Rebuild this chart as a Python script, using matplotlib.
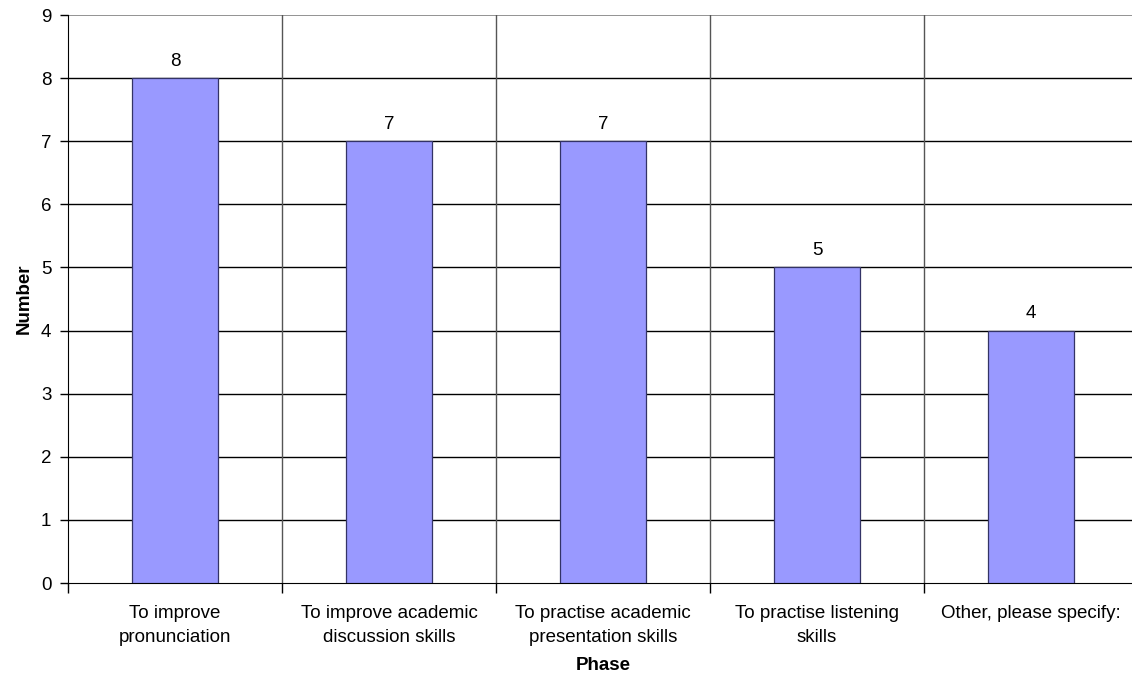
import matplotlib
matplotlib.use("Agg")
import matplotlib.pyplot as plt
import numpy as np

plt.rcParams['font.family'] = ['Liberation Sans', 'DejaVu Sans']

categories = ["To improve\npronunciation", "To improve academic\ndiscussion skills",
              "To practise academic\npresentation skills", "To practise listening\nskills",
              "Other, please specify:"]
values = [8, 7, 7, 5, 4]
yticks = list(range(0, 10))

fig = plt.figure(figsize=(11.32, 6.77), dpi=100)
W, H = 1132, 677
left, right, top, bottom = 68, 1138, 15, 583
ax = fig.add_axes([left / W, 1 - bottom / H, (right - left) / W, (bottom - top) / H])

FS = 13.5
x = np.arange(len(values))
ax.bar(x, values, width=0.4, color='#9999FF', edgecolor='#333366', linewidth=0.9, zorder=3)
for xi, v in zip(x, values):
    ax.text(xi, v + 0.13, str(v), ha='center', va='bottom', fontsize=FS, color='black')

ax.set_xlim(-0.5, len(values) - 0.5)
ax.set_ylim(0, 9)
ax.set_yticks(yticks)
ax.tick_params(axis='y', labelsize=FS, length=6, width=1, direction='out', pad=6)
ax.set_xticks(x)
ax.set_xticklabels(categories, fontsize=FS, linespacing=1.55)
ax.tick_params(axis='x', length=0, pad=16)
ax.set_xticks(np.arange(len(values) + 1) - 0.5, minor=True)
ax.tick_params(axis='x', which='minor', length=7, width=1, direction='out')

for yv in yticks[1:-1]:
    ax.axhline(yv, color='black', linewidth=1, zorder=1)
ax.axhline(9, color='#808080', linewidth=1.2, zorder=1)
for b in np.arange(1, len(values)) - 0.5:
    ax.axvline(b, color='#555555', linewidth=1, zorder=1)

for s in ['top', 'right']:
    ax.spines[s].set_visible(False)
ax.spines['left'].set_color('black')
ax.spines['bottom'].set_color('black')

ax.set_ylabel('Number', fontsize=FS, fontweight='bold', labelpad=6)
ax.set_xlabel('Phase', fontsize=FS, fontweight='bold', labelpad=8)

fig.savefig('out.png', dpi=100)
